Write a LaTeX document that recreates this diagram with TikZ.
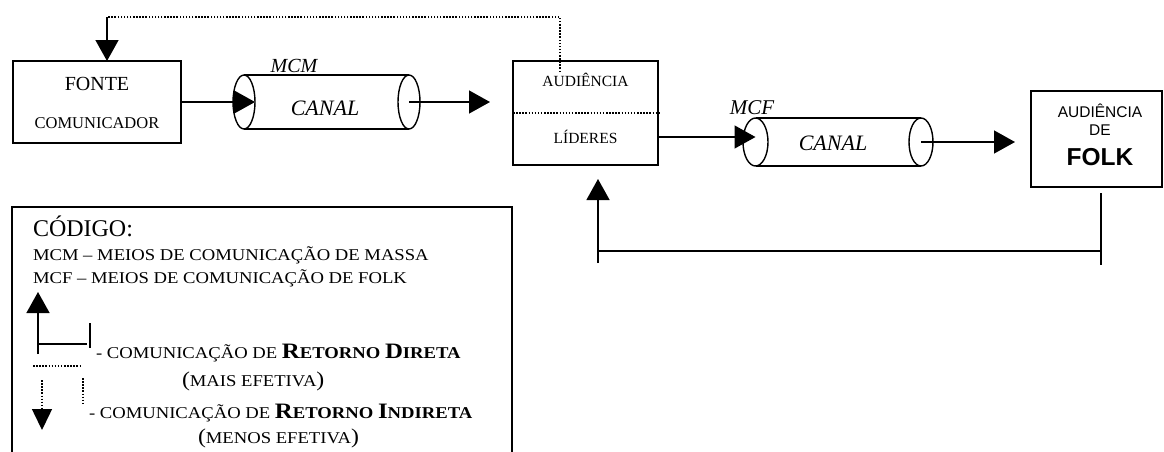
\documentclass[tikz,border=0pt]{standalone}
\usepackage{fontspec}
\setmainfont{Liberation Serif}
\newfontfamily\arialf{Liberation Sans}
\usetikzlibrary{arrows.meta,shapes.geometric}
\newcommand{\fs}[1]{\fontsize{#1}{#1}\selectfont}
\begin{document}
\begin{tikzpicture}[x=1pt,y=-1pt,
  box/.style={draw,line width=1.4pt,inner sep=0pt,outer sep=0pt},
  lin/.style={line width=1.4pt},
  arr/.style={line width=1.4pt,-{Triangle[length=21pt,width=23pt]}},
  dots/.style={line width=1.5pt,dash pattern=on 1.5pt off 1.6pt},
  endcap/.style={draw,ellipse,line width=1.4pt,inner sep=0pt,outer sep=0pt},
  txt/.style={inner sep=0pt,outer sep=0pt,anchor=base},
  ltxt/.style={inner sep=0pt,outer sep=0pt,anchor=base west,xscale=1.13},
]
\useasboundingbox (0,0) rectangle (1164,451);

% FONTE box
\node[box,minimum width=168pt,minimum height=82pt] (fonte) at (97,102) {};
\node[txt,font=\fs{20}] (fonteT) at (97,90) {FONTE};
\node[txt,font=\fs{16.5}] (comT) at (97,128.5) {COMUNICADOR};

% cylinder 1
\node[endcap,minimum width=22pt,minimum height=54pt] (c1l) at (244,102) {};
\node[endcap,minimum width=22pt,minimum height=54pt] (c1r) at (409,102) {};
\draw[lin] (c1l.north) -- (c1r.north);
\draw[lin] (c1l.south) -- (c1r.south);
\node[txt,font=\fs{20}\itshape] (mcm) at (294,72) {MCM};
\node[txt,font=\fs{22}\itshape] (canal1) at (325,115) {CANAL};

% audiencia / lideres box
\node[box,minimum width=145pt,minimum height=104pt] (aud) at (585.5,113) {};
\node[txt,font=\fs{15.5}] (audT) at (585.5,86) {AUDIÊNCIA};
\node[txt,font=\fs{15.5}] (lidT) at (585.5,143) {LÍDERES};
\coordinate (sepL) at (aud.west);
\coordinate (sepR) at (661,113);
\draw[dots] (sepL) -- (sepR);

% cylinder 2
\node[endcap,minimum width=25pt,minimum height=48pt] (c2l) at (755.5,142) {};
\node[endcap,minimum width=24pt,minimum height=48pt] (c2r) at (921,142) {};
\draw[lin] (c2l.north) -- (c2r.north);
\draw[lin] (c2l.south) -- (c2r.south);
\node[txt,font=\fs{21}\itshape] (mcf) at (752,114) {MCF};
\node[txt,font=\fs{22}\itshape] (canal2) at (833,150) {CANAL};

% folk box
\node[box,minimum width=131pt,minimum height=96pt] (folk) at (1096.5,139) {};
\node[txt,font=\arialf\fs{15.5}] (folkA) at (1100,117) {AUDIÊNCIA};
\node[txt,font=\arialf\fs{15.5}] (folkB) at (1100,135) {DE};
\node[txt,font=\arialf\bfseries\fs{24.5}] (folkC) at (1100,165) {FOLK};

% main arrows
\draw[arr] (fonte.east) -- (c1l.east);
\coordinate (t1) at (490,102);
\draw[arr] (c1r.center) -- (t1);
\coordinate (l1) at (aud.east |- 0,137);
\coordinate (l2) at (c2l.center |- 0,137);
\draw[arr] (l1) -- (l2);
\coordinate (t2) at (1015,142);
\draw[arr] (c2r.center) -- (t2);

% top indirect feedback
\coordinate (d0) at (560,72);
\coordinate (d1) at (560,17);
\coordinate (d2) at (107,17);
\coordinate (d3) at (107,61);
\draw[dots] (d0) -- (d1) -- (d2);
\draw[arr] (d2) -- (d3);

% bottom direct feedback
\coordinate (f1) at (1101,193);
\coordinate (f2) at (1101,265);
\coordinate (f3) at (1101,251);
\coordinate (f4) at (598,251);
\coordinate (f5) at (598,263);
\coordinate (f6) at (598,179);
\draw[lin] (f1) -- (f2);
\draw[lin] (f3) -- (f4);
\draw[arr] (f5) -- (f6);

% legend box
\draw[lin] (12,452) -- (12,207) -- (512,207) -- (512,452);
\node[txt,anchor=base west,font=\fs{24}] (cod) at (33,236) {CÓDIGO:};
\node[ltxt,font=\fs{16.5}] (lg1) at (33,260) {MCM -- MEIOS DE COMUNICAÇÃO DE MASSA};
\node[ltxt,font=\fs{16.5}] (lg2) at (33,283) {MCF -- MEIOS DE COMUNICAÇÃO DE FOLK};
\coordinate (ua0) at (38,354);
\coordinate (ua1) at (38,292);
\draw[arr] (ua0) -- (ua1);
\coordinate (uh0) at (38,344);
\coordinate (uh1) at (87,344);
\draw[lin] (uh0) -- (uh1);
\coordinate (ub0) at (90,323);
\coordinate (ub1) at (90,348);
\draw[lin] (ub0) -- (ub1);
\node[ltxt,font=\fs{16.5}] (lg3) at (96,358) {- COMUNICAÇÃO DE \textbf{{\fs{22}R}ETORNO {\fs{22}D}IRETA}};
\node[ltxt,font=\fs{16.5}] (lg4) at (182,386) {{\fs{21}(}MAIS EFETIVA{\fs{21})}};
\coordinate (dh0) at (33,366);
\coordinate (dh1) at (82,366);
\draw[dots] (dh0) -- (dh1);
\coordinate (dv0) at (42,380);
\coordinate (dv1) at (42,430);
\draw[dots,-{Triangle[length=21pt,width=20pt]}] (dv0) -- (dv1);
\coordinate (dr0) at (83,378);
\coordinate (dr1) at (83,405);
\draw[dots] (dr0) -- (dr1);
\node[ltxt,font=\fs{16.5}] (lg5) at (89,418) {- COMUNICAÇÃO DE \textbf{{\fs{22}R}ETORNO {\fs{22}I}NDIRETA}};
\node[ltxt,font=\fs{16.5}] (lg6) at (198,443) {{\fs{21}(}MENOS EFETIVA{\fs{21})}};
\end{tikzpicture}
\end{document}
